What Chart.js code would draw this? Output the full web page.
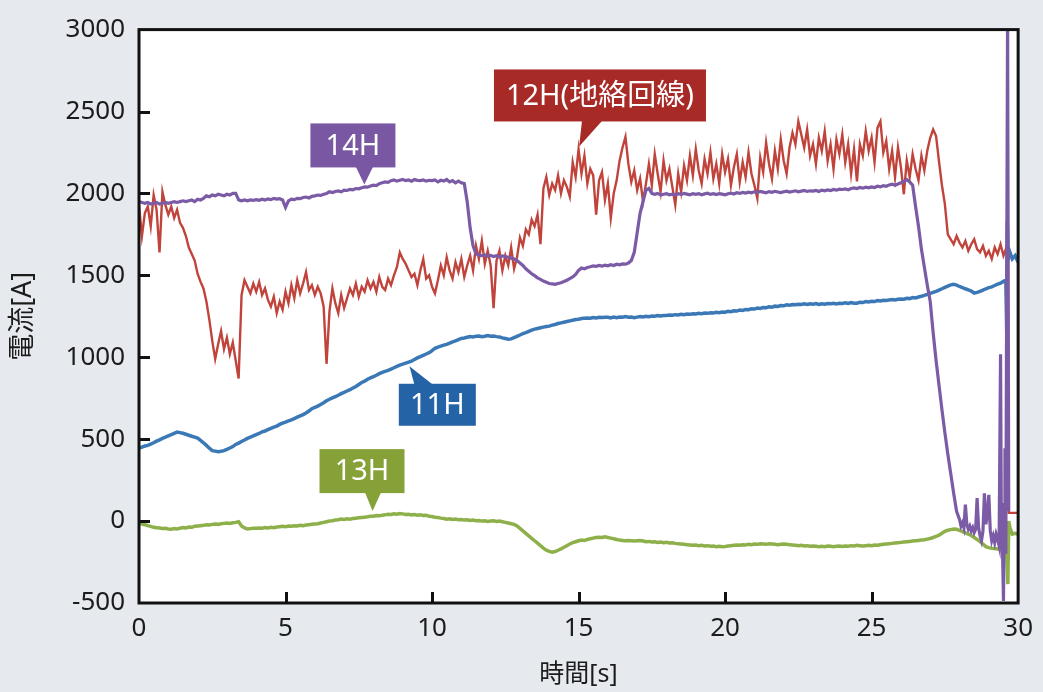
<!DOCTYPE html>
<html lang="ja">
<head>
<meta charset="utf-8">
<title>電流波形</title>
<script src="https://cdn.jsdelivr.net/npm/chart.js@4.4.1/dist/chart.umd.min.js"></script>
<style>
  html, body { margin: 0; padding: 0; background: #e6e9ee; }
  canvas { display: block; }
</style>
</head>
<body>
<canvas id="chart" width="1043" height="692"></canvas>
<script>
// Sampling interval of the recorded waveforms [s]
const SAMPLE_STEP = 0.1;

// 12H (ground-fault feeder), one sample per 0.1 s from 0 s
const current12H = [
  1930, 1740, 1880, 1920, 1800, 1990, 1900, 1640, 2010, 1930,
  1870, 1920, 1850, 1900, 1820, 1790, 1740, 1670, 1630, 1590,
  1510, 1460, 1420, 1340, 1230, 1100, 990, 1080, 1160, 1050,
  1120, 1020, 1090, 980, 870, 1380, 1470, 1430, 1390, 1450,
  1400, 1460, 1380, 1420, 1350, 1310, 1370, 1270, 1340, 1290,
  1400, 1330, 1440, 1360, 1470, 1390, 1450, 1520, 1410, 1440,
  1380, 1430, 1390, 1310, 960, 1280, 1420, 1330, 1270, 1380,
  1300, 1360, 1420, 1380, 1450, 1370, 1430, 1400, 1470, 1420,
  1460, 1400, 1490, 1430, 1410, 1480, 1440, 1500, 1550, 1640,
  1600, 1570, 1530, 1490, 1510, 1440, 1530, 1600, 1480, 1500,
  1430, 1390, 1470, 1560, 1500, 1610, 1530, 1480, 1580, 1520,
  1600, 1490, 1560, 1620, 1530, 1680, 1600, 1710, 1570, 1650,
  1560, 1300, 1590, 1650, 1530, 1620, 1560, 1670, 1540, 1610,
  1730, 1680, 1780, 1750, 1840, 1800, 1870, 1690, 2030, 2100,
  1990, 2060, 2020, 2110, 2000, 2080, 2040, 1980, 2190, 2100,
  2270, 2120, 2230, 2060, 2150, 2110, 1870, 2080, 2130, 1960,
  2060, 1850, 2000, 2080, 2200, 2280, 2345, 2180, 2070, 2140,
  2020, 2090, 1950, 2060, 2180, 2050, 2240, 2120, 2010, 2200,
  2080, 2150, 2040, 1930, 2120, 2010, 2170, 2080, 2230, 2110,
  2270, 2140, 2060, 2210, 2120, 2250, 2090, 2180, 2060, 2240,
  2130, 2210, 2050, 2160, 2240, 2070, 2190, 2100, 2250, 2120,
  2050, 1970, 2220, 2130, 2310, 2180, 2090, 2260, 2150, 2330,
  2200, 2120, 2280, 2370, 2300, 2440, 2360, 2280, 2390, 2230,
  2300, 2180, 2340, 2260, 2380, 2200, 2300, 2150, 2330, 2240,
  2360, 2190, 2300, 2120, 2270, 2073, 2300, 2230, 2380, 2260,
  2340, 2190, 2400, 2440, 2250, 2320, 2150, 2260, 2100, 2280,
  2160, 1995, 2200, 2100, 2240, 2150, 2080, 2230, 2140, 2260,
  2340, 2390, 2350, 2195, 2050, 1935, 1750, 1720, 1690, 1740,
  1700, 1670, 1710, 1650, 1690, 1720, 1660, 1640, 1680, 1620,
  1650, 1600, 1670, 1630, 1690, 1620, 1670
];
// [time s, current A] after the breaker trips
const current12HTail = [[29.65, 1600], [29.68, 50], [30, 50]];

// 14H
const current14H = [
  1950, 1945, 1940, 1945, 1935, 1940, 1945, 1935, 1940, 1945,
  1940, 1945, 1950, 1945, 1950, 1955, 1950, 1955, 1960, 1950,
  1965, 1960, 1970, 1985, 1980, 1990, 1985, 1995, 1990, 1985,
  1995, 1990, 2000, 2000, 1960, 1955, 1960, 1955, 1960, 1958,
  1962, 1958, 1965, 1960, 1967, 1962, 1970, 1965, 1968, 1960,
  1915, 1955, 1965, 1962, 1970, 1968, 1975, 1978, 1972, 1982,
  1985, 1990, 1988, 1995, 2000, 2010, 2005, 2012, 2015, 2010,
  2020, 2018, 2025, 2022, 2030, 2028, 2035, 2040, 2038, 2045,
  2050, 2048, 2060, 2065, 2070, 2068, 2078, 2082, 2075, 2080,
  2085, 2078, 2082, 2075, 2085, 2080, 2078, 2082, 2075, 2080,
  2078, 2082, 2070, 2080, 2075, 2085, 2070, 2078, 2065, 2075,
  2065, 2060, 1950, 1790, 1680, 1630, 1625, 1620, 1625, 1618,
  1622, 1615, 1620, 1612, 1618, 1615, 1610, 1605, 1600, 1590,
  1575, 1560, 1540, 1525, 1510, 1498, 1485, 1475, 1465, 1458,
  1450, 1448, 1445, 1450, 1455, 1462, 1470, 1480, 1490, 1505,
  1530, 1545, 1540, 1548, 1552, 1558, 1555, 1560, 1556, 1562,
  1558, 1565, 1560, 1568, 1564, 1570, 1568, 1575, 1590, 1640,
  1760, 1880, 1950, 2020, 2030, 2000, 1995, 2000, 1990, 1995,
  1998, 1992, 1996, 1990, 1998, 1994, 2000, 1996, 1992, 1998,
  1995, 1999, 1992, 1997, 2001, 1994, 1998, 1993, 1999, 1996,
  1992, 1998, 2002, 1996, 2004, 2000, 2006, 2002, 2008, 2004,
  2010, 2006, 2012, 2008, 2004, 2011, 2007, 2013, 2009, 2005,
  2010, 2014, 2008, 2012, 2016, 2010, 2014, 2018, 2012, 2016,
  2014, 2018, 2012, 2020, 2016, 2022, 2018, 2024, 2020, 2026,
  2024, 2028, 2022, 2030, 2034, 2030, 2036, 2032, 2038, 2034,
  2040, 2036, 2044, 2040, 2048, 2044, 2052, 2056, 2050, 2058,
  2065, 2072, 2085, 2070, 2050, 1920, 1800, 1660, 1550, 1440,
  1340, 1150, 980, 830, 680, 540, 410, 290, 170, 60
];
const current14HTail = [
  [28.0, 10], [28.05, -30], [28.1, -10], [28.15, -40], [28.2, 100], [28.25, -20],
  [28.3, -50], [28.35, -30], [28.4, -60], [28.45, -40], [28.5, -70], [28.55, -50],
  [28.6, 140], [28.65, -40], [28.7, -90], [28.75, -120], [28.8, -60], [28.85, 170],
  [28.9, -20], [28.95, 40], [29.0, 160], [29.05, -60], [29.1, -120], [29.15, -90],
  [29.2, -130], [29.25, -80], [29.3, -110], [29.35, -150], [29.4, 1018], [29.43, -120],
  [29.47, -200], [29.5, -488], [29.53, 100], [29.55, 445], [29.58, -200], [29.64, 3100],
  [29.68, 60]
];

// 11H
const current11H = [
  445, 452, 458, 462, 470, 478, 488, 496, 505, 512,
  520, 528, 535, 543, 540, 536, 530, 524, 518, 512,
  506, 492, 478, 462, 445, 430, 427, 424, 426, 430,
  438, 446, 455, 468, 476, 486, 495, 505, 512, 520,
  528, 535, 545, 550, 558, 566, 574, 580, 590, 598,
  604, 612, 618, 626, 634, 642, 650, 660, 672, 686,
  694, 702, 712, 722, 734, 744, 752, 760, 768, 778,
  786, 794, 802, 812, 822, 834, 846, 854, 866, 874,
  882, 890, 900, 908, 914, 920, 928, 936, 944, 952,
  958, 964, 970, 976, 986, 996, 1004, 1012, 1020, 1028,
  1040, 1055, 1062, 1068, 1074, 1079, 1086, 1094, 1100, 1108,
  1115, 1118, 1122, 1126, 1124, 1128, 1130, 1126, 1128, 1132,
  1128, 1130, 1126, 1124, 1118, 1114, 1110, 1112, 1120, 1128,
  1136, 1144, 1150, 1158, 1166, 1172, 1176, 1180, 1184, 1188,
  1190, 1196, 1200, 1206, 1210, 1214, 1218, 1222, 1226, 1230,
  1232, 1236, 1238, 1240, 1238, 1242, 1240, 1244, 1242, 1244,
  1244, 1240, 1246, 1242, 1246, 1244, 1248, 1244, 1246, 1242,
  1245, 1248, 1246, 1250, 1248, 1252, 1250, 1254, 1252, 1255,
  1255, 1258, 1256, 1260, 1258, 1262, 1260, 1264, 1262, 1266,
  1264, 1268, 1266, 1270, 1268, 1272, 1270, 1274, 1272, 1276,
  1275, 1280, 1278, 1284, 1282, 1288, 1286, 1292, 1290, 1296,
  1294, 1300, 1298, 1304, 1302, 1308, 1306, 1312, 1310, 1316,
  1314, 1320, 1318, 1322, 1320, 1324, 1322, 1326, 1322, 1326,
  1324, 1328, 1322, 1326, 1324, 1328, 1326, 1330, 1326, 1330,
  1328, 1332, 1328, 1334, 1330, 1330, 1336, 1334, 1340, 1338,
  1342, 1340, 1346, 1344, 1348, 1346, 1350, 1352, 1350, 1354,
  1356, 1354, 1360, 1358, 1364, 1362, 1368, 1372, 1378, 1384,
  1390, 1396, 1402, 1410, 1418, 1426, 1434, 1442, 1446, 1440,
  1432, 1425, 1418, 1412, 1404, 1392, 1396, 1402, 1410, 1418,
  1425, 1430, 1438, 1446, 1452, 1463
];
const current11HTail = [
  [29.58, 1470], [29.61, 1160], [29.63, 1830], [29.66, 1600],
  [29.72, 1640], [29.8, 1600], [29.9, 1620], [30, 1580]
];

// 13H
const current13H = [
  -10, -18, -22, -28, -32, -38, -40, -42, -45, -44,
  -48, -50, -46, -48, -44, -40, -42, -36, -38, -32,
  -30, -28, -26, -22, -24, -20, -18, -20, -16, -14,
  -12, -14, -10, -8, -4, -30, -42, -48, -46, -44,
  -44, -42, -44, -40, -42, -38, -40, -36, -34, -32,
  -34, -30, -32, -28, -30, -26, -28, -24, -22, -20,
  -18, -16, -12, -8, -4, 0, 2, 6, 8, 12,
  10, 14, 12, 16, 18, 20, 22, 24, 26, 30,
  30, 34, 32, 36, 38, 42, 40, 44, 42, 46,
  44, 40, 42, 38, 40, 36, 38, 34, 36, 30,
  28, 24, 22, 18, 16, 12, 14, 10, 12, 8,
  10, 6, 8, 4, 6, 2, 4, 0, 2, -2,
  0, 2, -2, 0, -4, -8, -12, -16, -20, -30,
  -45, -60, -75, -90, -105, -120, -135, -150, -165, -178,
  -185, -190, -186, -178, -170, -160, -150, -140, -132, -126,
  -120, -116, -118, -112, -108, -104, -100, -98, -100, -96,
  -100, -104, -108, -112, -116, -118, -120, -118, -120, -122,
  -120, -118, -122, -126, -124, -128, -126, -130, -128, -132,
  -130, -134, -132, -136, -138, -140, -142, -144, -146, -148,
  -146, -150, -148, -152, -150, -154, -152, -156, -154, -156,
  -155, -152, -150, -148, -146, -148, -144, -146, -142, -144,
  -140, -142, -138, -140, -142, -138, -140, -142, -144, -142,
  -140, -142, -144, -146, -148, -150, -148, -152, -150, -154,
  -152, -154, -156, -154, -156, -152, -154, -156, -154, -152,
  -155, -152, -154, -150, -152, -148, -150, -152, -150, -148,
  -150, -146, -148, -144, -142, -140, -138, -136, -134, -132,
  -130, -128, -126, -124, -122, -120, -118, -116, -114, -110,
  -106, -100, -94, -86, -74, -62, -56, -52, -48, -50,
  -56, -64, -72, -80, -88, -100, -112, -126, -140, -156,
  -162, -166, -168, -170, -172, -170, -168
];
const current13HTail = [
  [29.65, -385], [29.68, 0], [29.72, -40], [29.8, -80], [29.9, -75], [30, -80]
];

// Axis ranges and tick spacing
const timeRange = [0, 30];
const timeTickStep = 5;
const currentRange = [-500, 3000];
const currentTickStep = 500;

// Series labels
const seriesNames = ['12H(地絡回線)', '14H', '11H', '13H'];

// Turn a sampled array plus its tail into {x, y} points
function toPoints(values, tail) {
  const pts = values.map((v, i) => ({ x: Math.round(i * SAMPLE_STEP * 100) / 100, y: v }));
  tail.forEach(([t, v]) => pts.push({ x: t, y: v }));
  return pts;
}

const FONT = "'Noto Sans', 'Noto Sans CJK JP', sans-serif";
const BG = '#e6e9ee';
const INK = '#1c1c1c';

// Callout boxes: box centre and pointer tip in data units
const callouts = [
  { text: seriesNames[1], color: '#7957a2', at: [7.30, 2293], w: 85, h: 44, tip: [7.69, 2055], base: [3, 20], side: 'bottom' },
  { text: seriesNames[0], color: '#a82a27', at: [15.73, 2598], w: 212, h: 52, tip: [15.02, 2287], base: [-18, 2], side: 'bottom' },
  { text: seriesNames[2], color: '#2463a5', at: [10.18, 710], w: 77, h: 42, tip: [9.23, 945], base: [-23, -5], side: 'top' },
  { text: seriesNames[3], color: '#86a137', at: [7.61, 305], w: 85, h: 44, tip: [7.97, 61], base: [3, 19], side: 'bottom' }
];

const backgroundPlugin = {
  id: 'panelBackground',
  beforeDraw(chart) {
    const { ctx, chartArea: a } = chart;
    ctx.save();
    ctx.fillStyle = BG;
    ctx.fillRect(0, 0, chart.width, chart.height);
    ctx.fillStyle = '#ffffff';
    ctx.fillRect(a.left, a.top, a.right - a.left, a.bottom - a.top);
    ctx.restore();
  }
};

const framePlugin = {
  id: 'plotFrame',
  afterDatasetsDraw(chart) {
    const { ctx, chartArea: a, scales } = chart;
    ctx.save();
    ctx.strokeStyle = '#111';
    ctx.lineWidth = 3;
    ctx.strokeRect(a.left, a.top, a.right - a.left, a.bottom - a.top);
    // inward tick marks
    ctx.beginPath();
    scales.y.ticks.forEach(t => {
      if (t.value <= currentRange[0] || t.value >= currentRange[1]) return;
      const y = Math.round(scales.y.getPixelForValue(t.value)) + 0.5;
      ctx.moveTo(a.left, y);
      ctx.lineTo(a.left + 11, y);
    });
    scales.x.ticks.forEach(t => {
      if (t.value <= timeRange[0] || t.value >= timeRange[1]) return;
      const x = Math.round(scales.x.getPixelForValue(t.value)) + 0.5;
      ctx.moveTo(x, a.bottom);
      ctx.lineTo(x, a.bottom - 11);
    });
    ctx.stroke();
    ctx.restore();
  }
};

const calloutPlugin = {
  id: 'callouts',
  afterDatasetsDraw(chart) {
    const { ctx, scales } = chart;
    ctx.save();
    callouts.forEach(c => {
      const cx = scales.x.getPixelForValue(c.at[0]);
      const cy = scales.y.getPixelForValue(c.at[1]);
      const tx = scales.x.getPixelForValue(c.tip[0]);
      const ty = scales.y.getPixelForValue(c.tip[1]);
      const left = cx - c.w / 2, top = cy - c.h / 2;
      ctx.fillStyle = c.color;
      ctx.fillRect(left, top, c.w, c.h);
      const edge = c.side === 'bottom' ? top + c.h - 0.5 : top + 0.5;
      ctx.beginPath();
      ctx.moveTo(cx + c.base[0], edge);
      ctx.lineTo(tx, ty);
      ctx.lineTo(cx + c.base[1], edge);
      ctx.closePath();
      ctx.fill();
      ctx.fillStyle = '#ffffff';
      ctx.font = `29px ${FONT}`;
      ctx.textAlign = 'center';
      ctx.textBaseline = 'middle';
      ctx.fillText(c.text, cx, cy + 1);
    });
    ctx.restore();
  }
};

const lineStyle = (color, width, order) => ({
  borderColor: color,
  borderWidth: width,
  pointRadius: 0,
  fill: false,
  tension: 0,
  order
});

new Chart(document.getElementById('chart'), {
  type: 'line',
  data: {
    datasets: [
      { label: seriesNames[3], data: toPoints(current13H, current13HTail), ...lineStyle('#8eb04a', 3.5, 4) },
      { label: seriesNames[2], data: toPoints(current11H, current11HTail), ...lineStyle('#3b78b6', 3.5, 3) },
      { label: seriesNames[0], data: toPoints(current12H, current12HTail), ...lineStyle('#c0443b', 2.4, 2) },
      { label: seriesNames[1], data: toPoints(current14H, current14HTail), ...lineStyle('#7b5ba6', 3.2, 1) }
    ]
  },
  options: {
    responsive: false,
    animation: false,
    layout: { padding: { top: 28, right: 21, left: 0, bottom: 0 } },
    plugins: { legend: { display: false }, tooltip: { enabled: false } },
    scales: {
      x: {
        type: 'linear',
        min: timeRange[0],
        max: timeRange[1],
        ticks: { stepSize: timeTickStep, color: INK, font: { family: FONT, size: 26 }, padding: 10, maxRotation: 0, callback: v => String(v) },
        grid: { display: false, drawTicks: false },
        border: { display: false },
        title: { display: true, text: '時間[s]', color: INK, font: { family: FONT, size: 25 }, padding: { top: 0, bottom: 2 } },
        afterFit(s) { s.height = 89; }
      },
      y: {
        type: 'linear',
        min: currentRange[0],
        max: currentRange[1],
        ticks: { stepSize: currentTickStep, color: INK, font: { family: FONT, size: 26 }, padding: 14, callback: v => String(v) },
        grid: { display: false, drawTicks: false },
        border: { display: false },
        title: { display: true, text: '電流[A]', color: INK, font: { family: FONT, size: 27 }, padding: { top: 7, bottom: 0 } },
        afterFit(s) { s.width = 139; }
      }
    }
  },
  plugins: [backgroundPlugin, framePlugin, calloutPlugin]
});
</script>
</body>
</html>
